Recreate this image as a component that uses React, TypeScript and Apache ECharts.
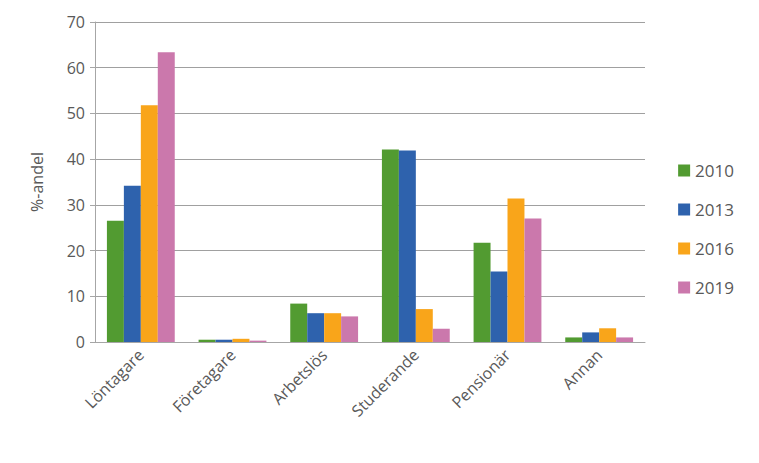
import React, { useEffect, useRef } from "react";
import * as echarts from "echarts";

const categories = ["Löntagare", "Företagare", "Arbetslös", "Studerande", "Pensionär", "Annan"];
const years = ["2010", "2013", "2016", "2019"];
const v2010 = [26.5, 0.5, 8.4, 42.1, 21.7, 1.0];
const v2013 = [34.2, 0.5, 6.3, 41.9, 15.4, 2.1];
const v2016 = [51.8, 0.7, 6.3, 7.2, 31.4, 3.0];
const v2019 = [63.4, 0.3, 5.6, 2.9, 27.0, 1.0];
const yTicks = { min: 0, max: 70, interval: 10 };
const colors = ["#529B31", "#2E62AD", "#F9A51A", "#CB78AC"];

export default function App() {
  const ref = useRef<HTMLDivElement>(null);
  useEffect(() => {
    if (!ref.current) return;
    const chart = echarts.init(ref.current, null, { renderer: "svg" });
    const font = "'Open Sans', 'Liberation Sans', sans-serif";
    const data = [v2010, v2013, v2016, v2019];
    chart.setOption({
      animation: false,
      textStyle: { fontFamily: font },
      grid: { left: 95, top: 22, right: 114, bottom: 121, containLabel: false },
      legend: {
        orient: "vertical",
        right: 20,
        top: 157,
        itemWidth: 12,
        itemHeight: 12,
        itemGap: 22,
        icon: "rect",
        textStyle: { fontSize: 17, color: "#595959", fontFamily: font },
        data: years,
      },
      xAxis: {
        type: "category",
        data: categories,
        axisLine: { lineStyle: { color: "#a6a6a6", width: 1 } },
        axisTick: { show: false },
        axisLabel: {
          rotate: 45,
          fontSize: 16,
          color: "#595959",
          margin: 10,
          interval: 0,
          fontFamily: font,
        },
      },
      yAxis: {
        type: "value",
        min: yTicks.min,
        max: yTicks.max,
        interval: yTicks.interval,
        name: "%-andel",
        nameLocation: "middle",
        nameGap: 50,
        nameTextStyle: { fontSize: 16, color: "#595959", fontFamily: font },
        axisLine: { show: true, lineStyle: { color: "#a6a6a6", width: 1 } },
        axisTick: { show: true, length: 5, lineStyle: { color: "#a6a6a6" } },
        axisLabel: { fontSize: 16, color: "#595959", margin: 10, fontFamily: font },
        splitLine: { lineStyle: { color: "#a0a0a0", width: 1 } },
      },
      series: years.map((y, i) => ({
        name: y,
        type: "bar",
        data: data[i],
        barGap: "0%",
        barCategoryGap: "26%",
        itemStyle: { color: colors[i] },
      })),
    });
    return () => chart.dispose();
  }, []);
  return <div ref={ref} style={{ width: 759, height: 463, margin: -8 }} />;
}
